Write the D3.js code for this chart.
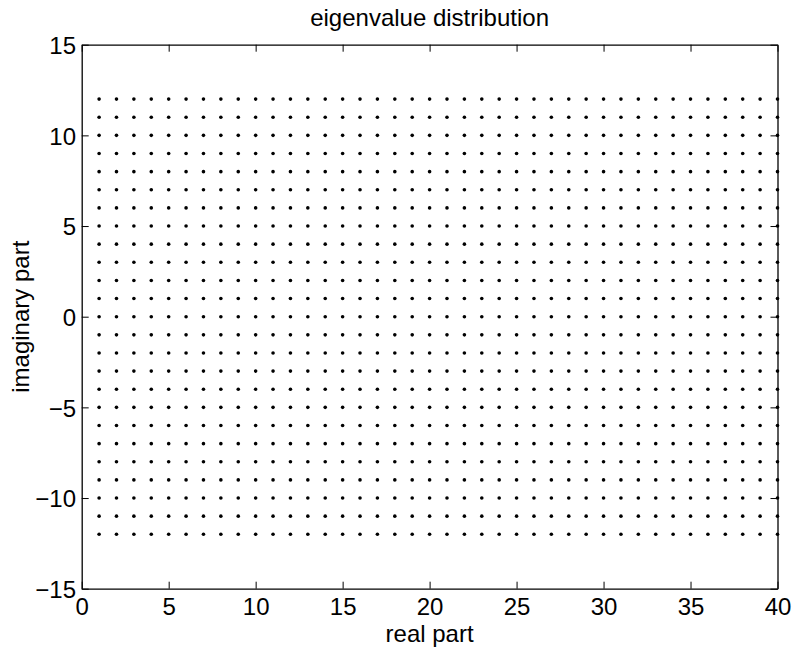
<!DOCTYPE html>
<html>
<head>
<meta charset="utf-8">
<script src="https://cdn.jsdelivr.net/npm/d3@7/dist/d3.min.js"></script>
<style>
  html, body { margin: 0; padding: 0; background: #fff; }
  svg { display: block; font-family: "Liberation Sans", Arial, Helvetica, sans-serif; }
</style>
</head>
<body>
<svg id="chart" width="794" height="649"></svg>
<script>
// Eigenvalue positions: every real part paired with every imaginary part
const realParts = [1, 2, 3, 4, 5, 6, 7, 8, 9, 10, 11, 12, 13, 14, 15, 16, 17, 18, 19, 20,
                   21, 22, 23, 24, 25, 26, 27, 28, 29, 30, 31, 32, 33, 34, 35, 36, 37, 38, 39, 40];
const imagParts = [-12, -11, -10, -9, -8, -7, -6, -5, -4, -3, -2, -1, 0,
                   1, 2, 3, 4, 5, 6, 7, 8, 9, 10, 11, 12];
const xTicks = [0, 5, 10, 15, 20, 25, 30, 35, 40];
const yTicks = [-15, -10, -5, 0, 5, 10, 15];
const xDomain = [0, 40];
const yDomain = [-15, 15];

const eigenvalues = [];
imagParts.forEach(im => realParts.forEach(re => eigenvalues.push({ re, im })));

const svg = d3.select("#chart");
const plot = { left: 81.7, right: 777.5, top: 44.7, bottom: 588.7 };
const fontSize = 24;
const tickLen = 7;

const x = d3.scaleLinear().domain(xDomain).range([plot.left, plot.right]);
const y = d3.scaleLinear().domain(yDomain).range([plot.bottom, plot.top]);

const w = plot.right - plot.left, h = plot.bottom - plot.top;

// Axes box with inward ticks on all four sides
function styleAxis(g) {
  g.select(".domain").attr("stroke", "#000").attr("stroke-width", 1.3);
  g.selectAll(".tick line").attr("stroke", "#000").attr("stroke-width", 1);
  g.selectAll("text").attr("font-size", fontSize).attr("fill", "#000")
    .attr("font-family", "Liberation Sans, Arial, sans-serif");
}

svg.append("g")
  .attr("transform", `translate(0,${plot.bottom})`)
  .call(d3.axisBottom(x).tickValues(xTicks).tickSize(-tickLen).tickPadding(10).tickSizeOuter(0))
  .call(styleAxis)
  .call(g => g.selectAll("text").attr("dy", "0.71em").attr("y", 9.5));

svg.append("g")
  .attr("transform", `translate(0,${plot.top})`)
  .call(d3.axisTop(x).tickValues(xTicks).tickSize(-tickLen).tickSizeOuter(0).tickFormat(""))
  .call(styleAxis);

svg.append("g")
  .attr("transform", `translate(${plot.left},0)`)
  .call(d3.axisLeft(y).tickValues(yTicks).tickSize(-tickLen).tickSizeOuter(0)
    .tickFormat(d => d < 0 ? "\u2212" + Math.abs(d) : d))
  .call(styleAxis)
  .call(g => g.selectAll("text").attr("x", -5.7).attr("dy", "0.36em"));

svg.append("g")
  .attr("transform", `translate(${plot.right},0)`)
  .call(d3.axisRight(y).tickValues(yTicks).tickSize(-tickLen).tickSizeOuter(0).tickFormat(""))
  .call(styleAxis);

// Eigenvalue markers
svg.append("g")
  .selectAll("circle")
  .data(eigenvalues)
  .join("circle")
  .attr("cx", d => x(d.re))
  .attr("cy", d => y(d.im))
  .attr("r", 1.8)
  .attr("fill", "#000");

// Title and axis labels
svg.append("text")
  .attr("x", plot.left + w / 2).attr("y", 26)
  .attr("text-anchor", "middle").attr("font-size", fontSize)
  .text("eigenvalue distribution");

svg.append("text")
  .attr("x", plot.left + w / 2).attr("y", 642)
  .attr("text-anchor", "middle").attr("font-size", fontSize)
  .text("real part");

svg.append("text")
  .attr("transform", `translate(28.5,${plot.top + h / 2}) rotate(-90)`)
  .attr("text-anchor", "middle").attr("font-size", fontSize)
  .text("imaginary part");
</script>
</body>
</html>
